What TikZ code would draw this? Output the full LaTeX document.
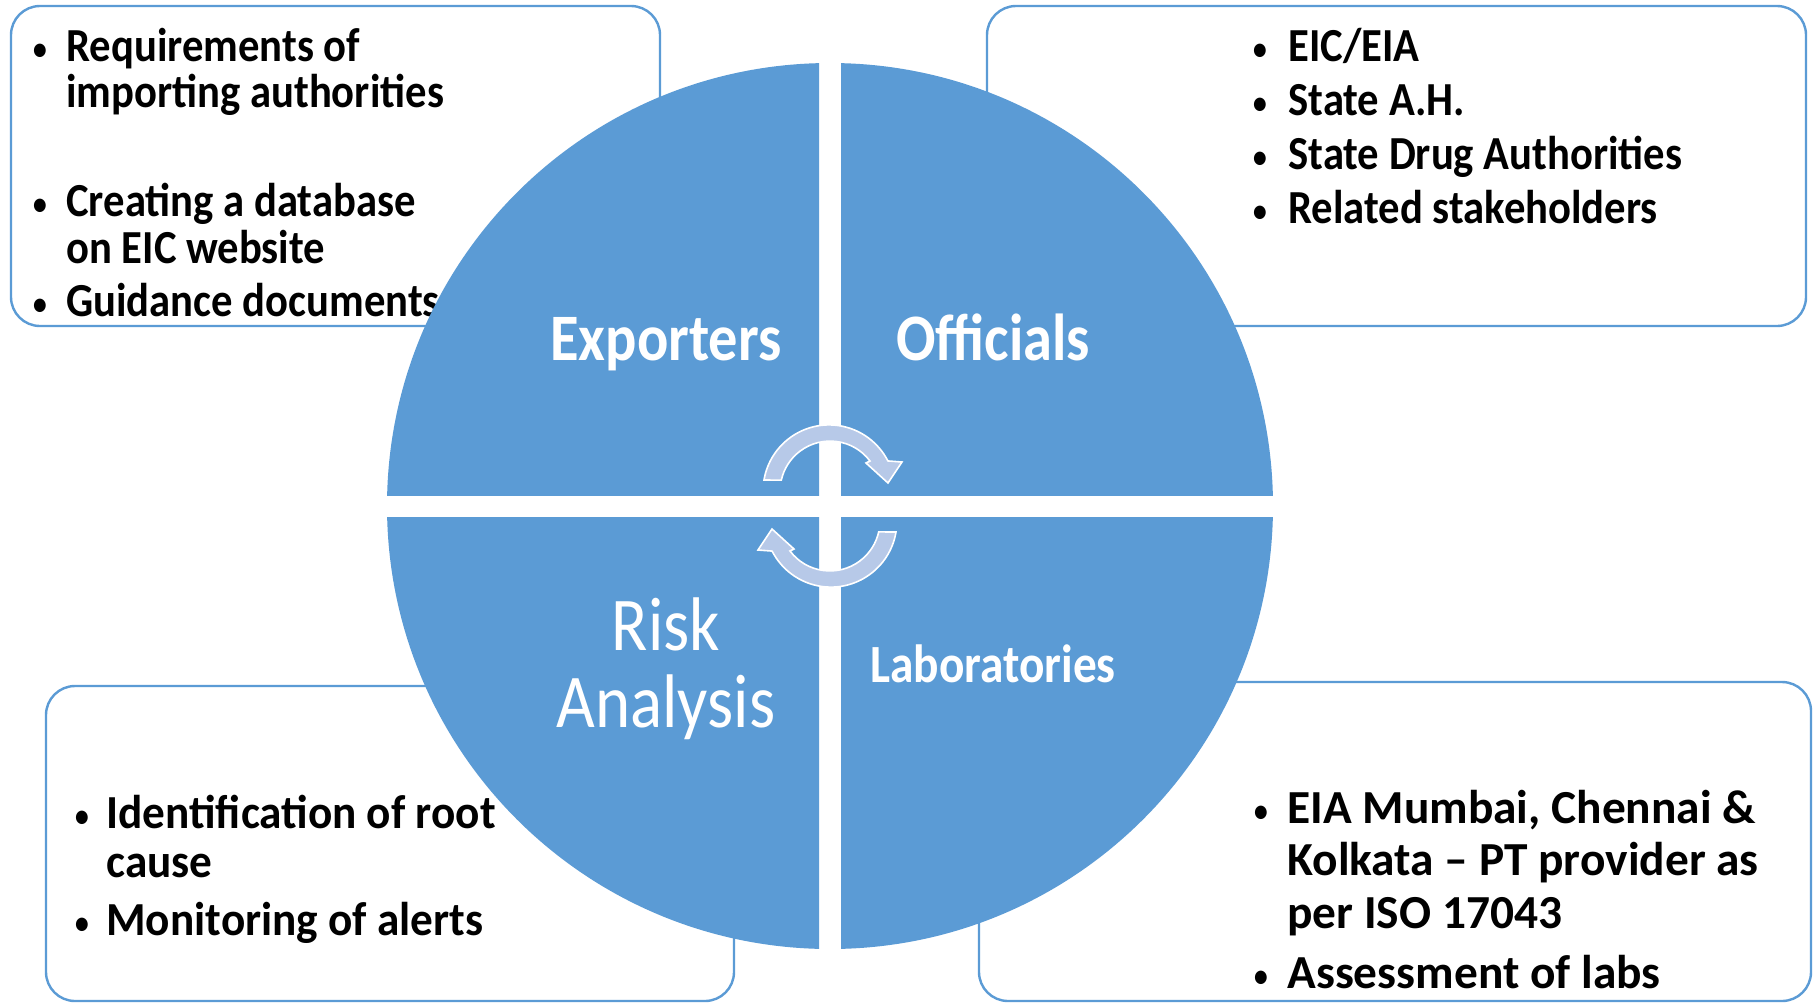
\documentclass[tikz,border=0pt]{standalone}
\usepackage{fontspec}
\setmainfont{Carlito}[FakeStretch=0.88]
\newfontfamily\fTop{Carlito}[FakeStretch=0.90]
\newfontfamily\fBL{Carlito}[FakeStretch=0.955]
\newfontfamily\fBR{Carlito}[FakeStretch=1.0]
\definecolor{qblue}{RGB}{91,155,213}
\definecolor{arrowblue}{RGB}{183,201,232}
\tikzset{
  box/.style={draw=qblue, line width=1.2pt, fill=white, rounded corners=14.5pt},
  btxt/.style={inner sep=0pt, anchor=base west, text=black, font=#1\fontsize{23.7}{27}\selectfont\bfseries},
  ttop/.style={btxt=\fTop},
  tbl/.style={btxt=\fBL},
  tbr/.style={btxt=\fBR},
  bul/.style={inner sep=0pt, anchor=base, font=\fontsize{19}{27}\selectfont, text=black},
  qlabel/.style={inner sep=0pt, anchor=base, text=white},
  cyc/.style={fill=arrowblue, draw=white, line width=0.8pt}
}
\begin{document}
\begin{tikzpicture}[x=0.5pt, y=-0.5pt]
\useasboundingbox (0,0) rectangle (1816,1003);
% boxes
\draw[box] (11,6) rectangle (660,326);
\draw[box] (987,6) rectangle (1806,326);
\draw[box] (46,686) rectangle (734,1001);
\draw[box] (979,682) rectangle (1811,1001);
% top-left text
\node[bul] (b1) at (40,61) {•};
\node[ttop] (t1a) at (66,61) {Requirements of};
\node[ttop] (t1b) at (66,107) {importing authorities};
\node[bul] (b2) at (40,216) {•};
\node[ttop] (t2a) at (66,216) {Creating a database};
\node[ttop] (t2b) at (66,263) {on EIC website};
\node[bul] (b3) at (40,316) {•};
\node[ttop] (t3a) at (66,316) {Guidance documents};
% top-right text
\node[bul] (b4) at (1260,61) {•};
\node[ttop] (t4) at (1288,61) {EIC/EIA};
\node[bul] (b5) at (1260,115) {•};
\node[ttop] (t5) at (1288,115) {State A.H.};
\node[bul] (b6) at (1260,169) {•};
\node[ttop] (t6) at (1288,169) {State Drug Authorities};
\node[bul] (b7) at (1260,223) {•};
\node[ttop] (t7) at (1288,223) {Related stakeholders};
% bottom-left text
\node[bul] (b8) at (82,828) {•};
\node[tbl] (t8a) at (106,828) {Identification of root};
\node[tbl] (t8b) at (106,877) {cause};
\node[bul] (b9) at (82,935) {•};
\node[tbl] (t9) at (106,935) {Monitoring of alerts};
% bottom-right text
\node[bul] (b10) at (1261,823) {•};
\node[tbr] (t10a) at (1287,823) {EIA Mumbai, Chennai \&};
\node[tbr] (t10b) at (1287,875) {Kolkata – PT provider as};
\node[tbr] (t10c) at (1287,928) {per ISO 17043};
\node[bul] (b11) at (1261,988) {•};
\node[tbr] (t11) at (1287,988) {Assessment of labs};
% quadrants
\begin{scope}
\clip (300,0) rectangle (819,495);
\fill[qblue] (830,506) circle[radius=443];
\end{scope}
\begin{scope}
\clip (841,0) rectangle (1400,495);
\fill[qblue] (830,506) circle[radius=443];
\end{scope}
\begin{scope}
\clip (300,517) rectangle (819,1003);
\fill[qblue] (830,506) circle[radius=443];
\end{scope}
\begin{scope}
\clip (841,517) rectangle (1400,1003);
\fill[qblue] (830,506) circle[radius=443];
\end{scope}
% labels
\node[qlabel, font=\fontsize{33.2}{40}\selectfont\bfseries] (exp) at (666,360) {Exporters};
\node[qlabel, font=\fontsize{33.2}{40}\selectfont\bfseries] (off) at (993,360) {Officials};
\node[qlabel, font=\fontsize{38}{46}\selectfont] (risk) at (666,650) {Risk};
\node[qlabel, font=\fontsize{38}{46}\selectfont] (ana) at (666,727) {Analysis};
\node[qlabel, font=\fontsize{26.9}{32}\selectfont\bfseries] (lab) at (993,682) {Laboratories};
% cycle arrows
\draw[cyc] (764,480) arc[start angle=189.5, end angle=333, radius=66]
  -- (902,462) -- (888,483) -- (866,463) -- (870,461)
  arc[start angle=323, end angle=192.7, radius=50] -- cycle;
\begin{scope}[rotate around={180:(830,506)}]
\draw[cyc] (764,480) arc[start angle=189.5, end angle=333, radius=66]
  -- (902,462) -- (888,483) -- (866,463) -- (870,461)
  arc[start angle=323, end angle=192.7, radius=50] -- cycle;
\end{scope}
\end{tikzpicture}
\end{document}
